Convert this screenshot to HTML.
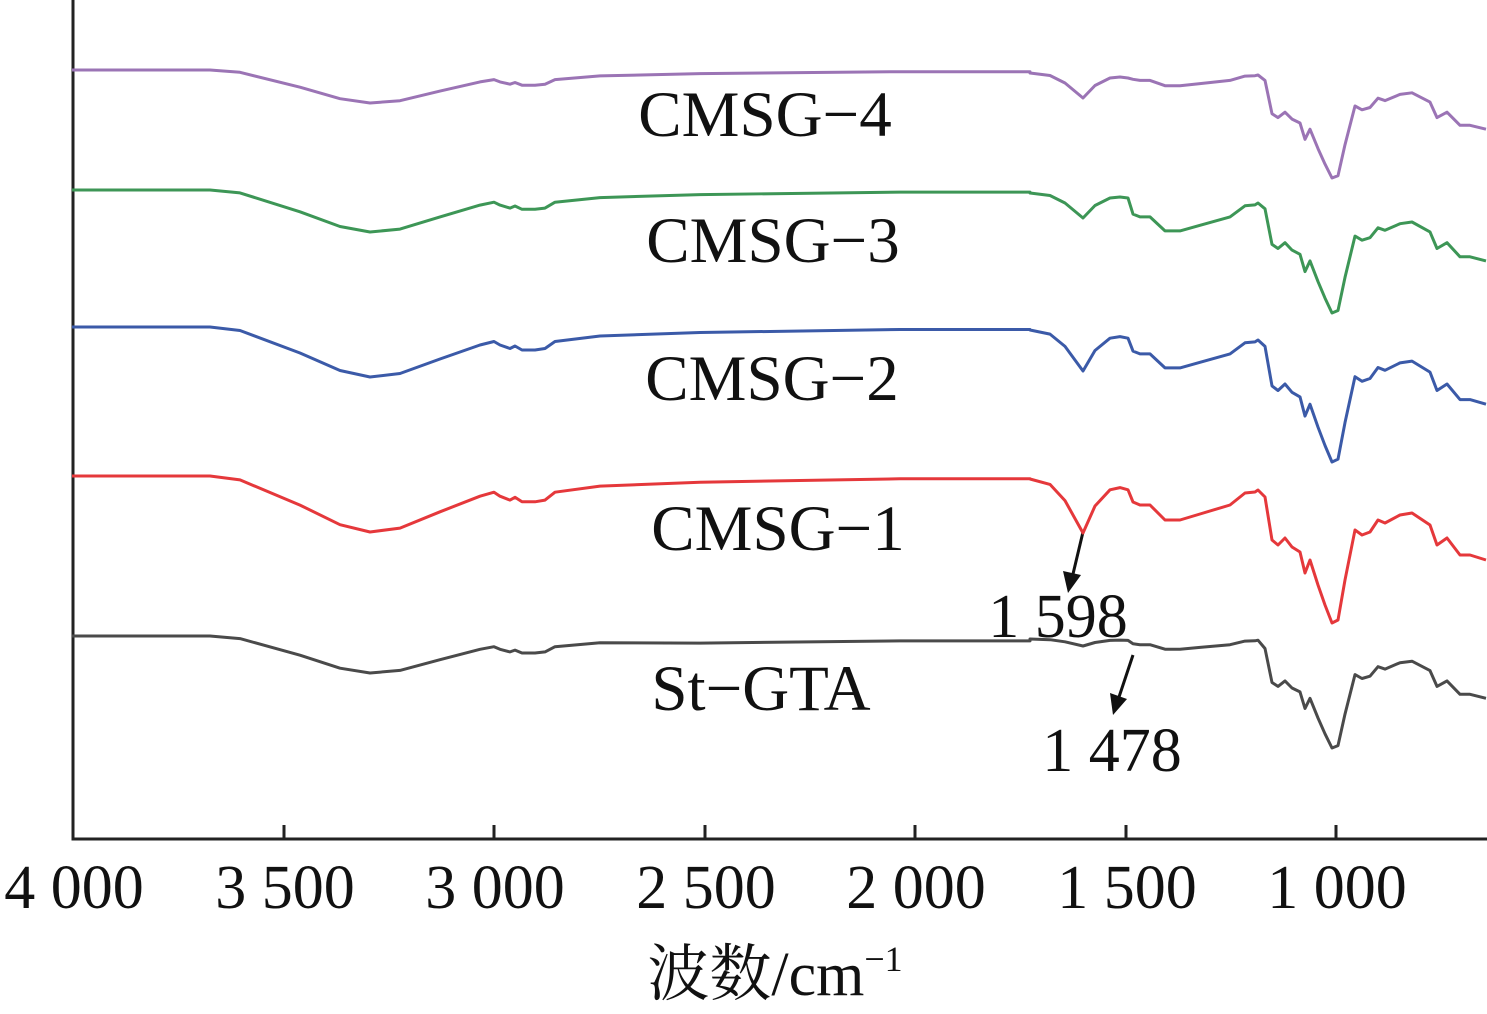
<!DOCTYPE html><html><head><meta charset="utf-8"><style>html,body{margin:0;padding:0;background:#fff}svg{display:block}text{font-family:"Liberation Serif","Noto Serif CJK SC",serif;fill:#111}</style></head><body>
<svg id="s" width="1487" height="1014" viewBox="0 0 1487 1014">
<g stroke="#222" stroke-width="3" fill="none">
<path d="M73,0 V839 H1487"/>
<path d="M284,839v-14M494,839v-14M705,839v-14M915,839v-14M1126,839v-14M1336,839v-14"/>
</g>
<g font-size="62" text-anchor="middle">
<text x="74" y="908">4 000</text><text x="285" y="908">3 500</text><text x="495" y="908">3 000</text><text x="706" y="908">2 500</text><text x="916" y="908">2 000</text><text x="1127" y="908">1 500</text><text x="1337" y="908">1 000</text>
<text x="775" y="995">波数/cm<tspan font-size="36" dy="-24">−1</tspan></text>
</g>
<g font-size="65" text-anchor="middle">
<text x="765" y="136">CMSG−4</text><text x="773" y="262">CMSG−3</text><text x="772" y="400">CMSG−2</text><text x="778" y="550">CMSG−1</text><text x="761" y="710">St−GTA</text>
<text x="1058" y="637" font-size="62">1 598</text><text x="1112" y="771" font-size="62">1 478</text>
</g>
<g stroke="#111" stroke-width="3"><line x1="1083" y1="532" x2="1073" y2="574"/><line x1="1133" y1="655" x2="1119" y2="697"/></g>
<g fill="#111"><polygon points="1063,571 1081,575 1068,593"/><polygon points="1110,693 1127,699 1113,715"/></g>
<g id="c" fill="none" stroke-width="3" stroke-linejoin="round"></g>
</svg>
<script>
var broad=[[72,0],[210,0],[240,.07],[300,.52],[340,.87],[370,1],[400,.93],[440,.64],[480,.36],[494,.29],[500,.36],[510,.43],[515,.38],[522,.46],[535,.46],[545,.43],[555,.29],[600,.18],[700,.11],[900,.05],[1030,.05]];
var mid=[[1030,0],[1050,.1],[1065,.4],[1083,1],[1095,.5],[1110,.2],[1120,.16],[1128,.2]];
var mid2=[[1133,26],[1140,29],[1150,29],[1165,44],[1180,44],[1200,38],[1230,29],[1245,17],[1255,16],[1258,14]];
var fp=[[1265,497],[1272,540],[1278,545],[1285,538],[1292,547],[1300,552],[1305,573],[1310,560],[1318,585],[1325,605],[1332,623],[1338,620],[1345,580],[1355,530],[1362,535],[1370,532],[1378,520],[1385,523],[1400,515],[1412,513],[1430,525],[1437,545],[1447,538],[1460,555],[1470,555],[1486,560]];
var C=[["#9b74b5",70,33,25,5,108],["#3d9656",190,42,25,13,123],["#3b5aa8",327,50,41,13,135],["#e5383b",476,56,54,14,147],["#4a4a4a",636,37,7,7,112]];
var g=document.getElementById('c');
C.forEach(function(c){var b=c[1],pts=[];
broad.forEach(function(p){pts.push([p[0],b+p[1]*c[2]+(p[0]>600?3:0)*(c[1]==636?1:0)]);});
mid.forEach(function(p){pts.push([p[0],b+3+p[1]*c[3]]);});
var f=c[4]/14;mid2.forEach(function(p){pts.push([p[0],b+p[1]*f*(c[1]==636?0.6:1)]);});
var y0=b+c[4],s=(c[5]-c[4])/133;
fp.forEach(function(p){pts.push([p[0],y0+(p[1]-490)*s]);});
var d=pts.map(function(p,i){return (i?'L':'M')+p[0]+','+p[1].toFixed(1)}).join(' ');
var e=document.createElementNS('http://www.w3.org/2000/svg','path');e.setAttribute('d',d);e.setAttribute('stroke',c[0]);g.appendChild(e);});
</script>
</body></html>
